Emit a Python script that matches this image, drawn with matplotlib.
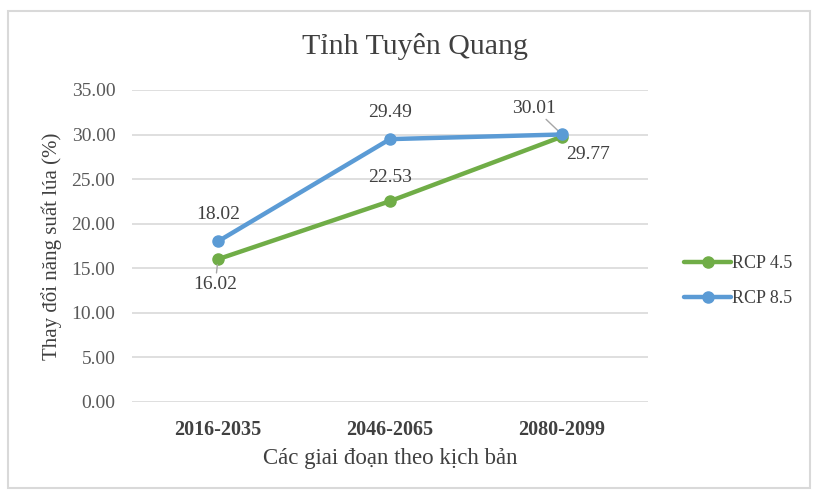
import matplotlib
matplotlib.use("Agg")
import matplotlib.pyplot as plt
from matplotlib.patches import Rectangle

categories = ["2016-2035", "2046-2065", "2080-2099"]
rcp45 = [16.02, 22.53, 29.77]
rcp85 = [18.02, 29.49, 30.01]
yticks = [0, 5, 10, 15, 20, 25, 30, 35]

plt.rcParams['font.family'] = ['Liberation Serif', 'DejaVu Serif']

W, H = 814, 492
fig = plt.figure(figsize=(W/100, H/100), dpi=100)
ax = fig.add_axes([132/W, 1-402/H, (648-132)/W, (402-90)/H])

green = "#70AD47"
blue = "#5B9BD5"
x = list(range(len(categories)))

ax.plot(x, rcp45, color=green, lw=3.2, marker='o', ms=8, label="RCP 4.5", zorder=3,
        solid_capstyle='round')
ax.plot(x, rcp85, color=blue, lw=3.2, marker='o', ms=8, label="RCP 8.5", zorder=4,
        solid_capstyle='round')

ax.set_xlim(-0.5, 2.5)
ax.set_ylim(0, 35)
ax.set_yticks(yticks)
ax.set_yticklabels([f"{v:.2f}" for v in yticks], fontsize=14, color="#595959")
ax.set_xticks(x)
ax.set_xticklabels(categories, fontsize=14.5, fontweight='bold', color="#404040")
ax.tick_params(axis='x', length=0, pad=13)
ax.tick_params(axis='y', length=0, pad=12)
ax.grid(axis='y', color="#D9D9D9", lw=1.2)
ax.set_axisbelow(True)
for s in ax.spines.values():
    s.set_visible(False)

lab_kw = dict(fontsize=14, color="#404040", ha='center', va='center')
lead = dict(arrowstyle='-', color="#A6A6A6", lw=1, shrinkA=0, shrinkB=4)
ax.annotate(f"{rcp85[0]:.2f}", (0, rcp85[0]), xytext=(0, 19), textcoords='offset points', **lab_kw)
ax.annotate(f"{rcp45[0]:.2f}", (0, rcp45[0]), xytext=(-2, -18), textcoords='offset points',
            arrowprops=lead, **lab_kw)
ax.annotate(f"{rcp85[1]:.2f}", (1, rcp85[1]), xytext=(0, 19), textcoords='offset points', **lab_kw)
ax.annotate(f"{rcp45[1]:.2f}", (1, rcp45[1]), xytext=(0, 17), textcoords='offset points', **lab_kw)
ax.annotate(f"{rcp85[2]:.2f}", (2, rcp85[2]), xytext=(-20, 19), textcoords='offset points',
            arrowprops=lead, **lab_kw)
ax.annotate(f"{rcp45[2]:.2f}", (2, rcp45[2]), xytext=(19, -13), textcoords='offset points', **lab_kw)

ax.set_xlabel("Các giai đoạn theo kịch bản", fontsize=16.5, color="#404040", labelpad=6)
ax.set_ylabel("Thay đổi năng suất lúa (%)", fontsize=15, color="#404040", labelpad=7)

fig.text(415/W, 1-46/H, "Tỉnh Tuyên Quang", fontsize=21.5, color="#404040", ha='center', va='center')

leg = fig.legend(loc='center left', bbox_to_anchor=(668/W, 1-281/H), frameon=False,
                 fontsize=13, handlelength=2.6, labelspacing=1.0, handletextpad=0.05)
for t in leg.get_texts():
    t.set_color("#404040")

fig.patches.append(Rectangle((8/W, 1-488/H), (810-8)/W, (488-11)/H, transform=fig.transFigure,
                             fill=False, edgecolor="#D9D9D9", lw=1.5))

fig.savefig("out.png", dpi=100, facecolor='white')
